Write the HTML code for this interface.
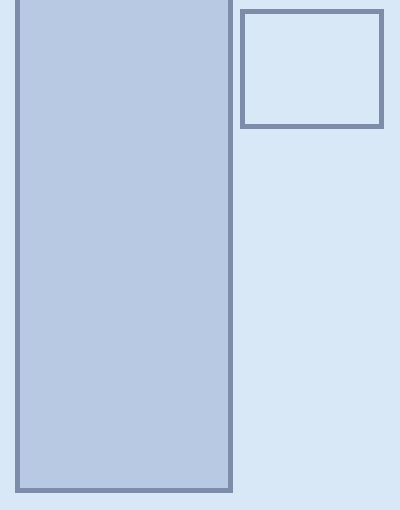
<!DOCTYPE html>
<html>
<head>
<meta charset="utf-8">
<style>
  html, body { margin: 0; padding: 0; }
  body { width: 400px; height: 510px; background: #d8e8f6; overflow: hidden; }
  svg { display: block; }
</style>
</head>
<body>
<svg id="chart" width="400" height="510" viewBox="0 0 400 510">
  <rect x="0" y="0" width="400" height="510" fill="#d8e8f6"/>
  <g id="bars"></g>
  <rect x="242.5" y="11.5" width="139" height="115" fill="#d8e8f6" stroke="#7d8ca8" stroke-width="5"/>
</svg>
<script>
const categories = ["A"];
const values = [105];

const yMax = 100;
const plotTop = 0, plotBottom = 490.5;
function yScale(v) { return plotBottom - (v / yMax) * (plotBottom - plotTop); }
const plotLeft = 17.5, bandWidth = 213;
function xScale(i) { return plotLeft + i * bandWidth; }

const g = document.getElementById('bars');
const ns = 'http://www.w3.org/2000/svg';
categories.forEach((c, i) => {
  const r = document.createElementNS(ns, 'rect');
  const y = yScale(values[i]);
  r.setAttribute('x', xScale(i));
  r.setAttribute('y', y);
  r.setAttribute('width', bandWidth);
  r.setAttribute('height', plotBottom - y);
  r.setAttribute('fill', '#b8cae3');
  r.setAttribute('stroke', '#7d8ca8');
  r.setAttribute('stroke-width', '5');
  
  
  g.appendChild(r);
});
</script>
</body>
</html>
